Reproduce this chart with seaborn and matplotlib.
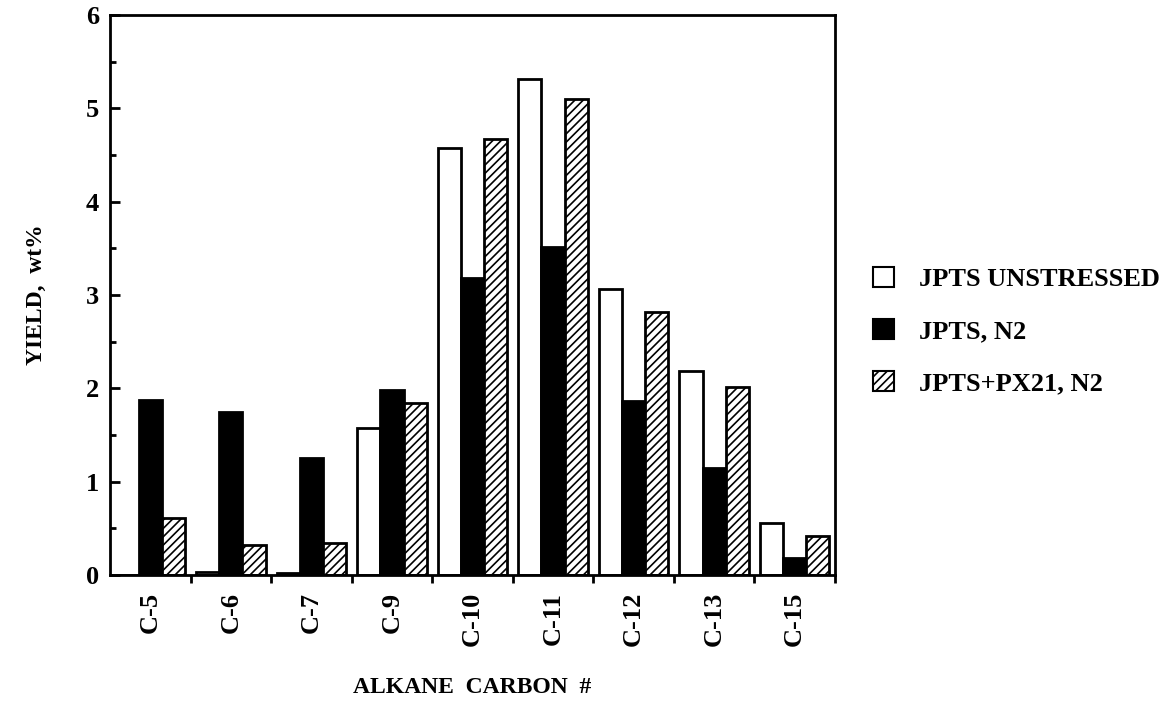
import matplotlib
matplotlib.use("Agg")
import matplotlib.pyplot as plt
import seaborn as sns
import pandas as pd
from matplotlib.patches import Patch
from matplotlib.ticker import MultipleLocator

categories = ["C-5", "C-6", "C-7", "C-9", "C-10", "C-11", "C-12", "C-13", "C-15"]
series_names = ["JPTS UNSTRESSED", "JPTS, N2", "JPTS+PX21, N2"]
unstressed = [0.0, 0.03, 0.02, 1.58, 4.58, 5.32, 3.06, 2.19, 0.56]
n2 = [1.88, 1.75, 1.25, 1.98, 3.18, 3.52, 1.87, 1.15, 0.18]
px21 = [0.61, 0.32, 0.34, 1.84, 4.67, 5.10, 2.82, 2.01, 0.42]

rows = []
for name, vals in zip(series_names, [unstressed, n2, px21]):
    for c, v in zip(categories, vals):
        rows.append({"cat": c, "series": name, "value": v})
df = pd.DataFrame(rows)

sns.set_style("ticks")
plt.rcParams["font.family"] = ["Liberation Serif", "DejaVu Serif"]
plt.rcParams["font.weight"] = "bold"
plt.rcParams["hatch.linewidth"] = 1.2
for key in ["text.color", "axes.labelcolor", "xtick.color", "ytick.color",
            "axes.edgecolor"]:
    plt.rcParams[key] = "black"

fig = plt.figure(figsize=(11.71, 7.17), dpi=100)
ax = fig.add_axes([0.094, 0.198, 0.619, 0.781])

palette = {"JPTS UNSTRESSED": "white", "JPTS, N2": "black", "JPTS+PX21, N2": "white"}
sns.barplot(data=df, x="cat", y="value", hue="series", palette=palette,
            order=categories, hue_order=series_names, width=0.86,
            edgecolor="black", linewidth=2, saturation=1, legend=False, ax=ax)
for bar in ax.containers[2]:
    bar.set_hatch("////")

ax.set_ylim(0, 6)
ax.set_xlim(-0.5, len(categories) - 0.5)
ax.yaxis.set_major_locator(MultipleLocator(1))
ax.yaxis.set_minor_locator(MultipleLocator(0.5))
ax.tick_params(axis="y", which="major", length=7, width=2, direction="in",
               labelsize=19, pad=8)
ax.tick_params(axis="y", which="minor", length=4, width=2, direction="in")
for s in ax.spines.values():
    s.set_linewidth(2)
    s.set_visible(True)
    s.set_color("black")

# x ticks at category boundaries, labels at centers
ax.set_xticks([i + 0.5 for i in range(len(categories))], minor=True)
ax.set_xticks(range(len(categories)))
ax.set_xticklabels(categories, rotation=90, fontsize=19, fontweight="bold")
ax.tick_params(axis="x", which="major", length=0, pad=12)
ax.tick_params(axis="x", which="minor", length=6, width=2, direction="out")
for lab in ax.get_yticklabels():
    lab.set_fontweight("bold")

ax.set_xlabel("ALKANE  CARBON  #", fontsize=17, fontweight="bold", labelpad=22)
ax.set_ylabel("YIELD,  wt%", fontsize=17, fontweight="bold", labelpad=28)

handles = [Patch(facecolor="white", edgecolor="black", linewidth=1.5),
           Patch(facecolor="black", edgecolor="black", linewidth=1.5),
           Patch(facecolor="white", edgecolor="black", linewidth=1.5, hatch="////")]
fig.legend(handles, series_names, loc="center left", bbox_to_anchor=(0.725, 0.538),
           frameon=False, handlelength=0.8, handleheight=0.8,
           labelspacing=1.05, handletextpad=0.95, prop={"weight": "bold", "size": 19})

fig.savefig("out.png", dpi=100)
